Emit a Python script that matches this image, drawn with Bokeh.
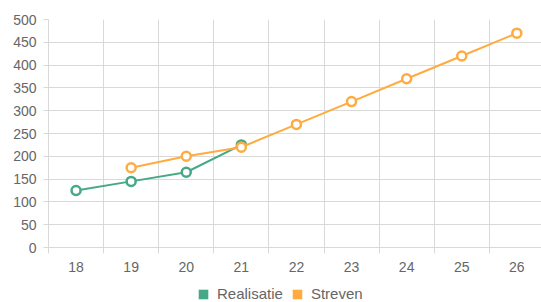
from bokeh.plotting import figure
from bokeh.layouts import column
from bokeh.models import Range1d, FixedTicker, Legend, LegendItem, ColumnDataSource
from bokeh.embed import file_html
from bokeh.resources import INLINE

# data
real_x = [18, 19, 20, 21]
real_y = [125, 145, 165, 225]
streven_x = [19, 20, 21, 22, 23, 24, 25, 26]
streven_y = [175, 200, 220, 270, 320, 370, 420, 470]
categories = [18, 19, 20, 21, 22, 23, 24, 25, 26]
y_ticks = [0, 50, 100, 150, 200, 250, 300, 350, 400, 450, 500]
series_names = ["Realisatie", "Streven"]

GREEN = "#45a985"
ORANGE = "#ffab3f"
GRID = "#d9d9d9"
TEXT = "#666666"
FONT = "Liberation Sans"

W = 541
H_MAIN, H_LEG = 284, 18
LEFT, RIGHT, TOP, BOTTOM = 48, 0, 19, 37
step = 55.1
x0 = categories[0] - 0.5
x1 = x0 + (W - LEFT - RIGHT) / step

p = figure(width=W, height=H_MAIN, output_backend="svg", toolbar_location=None,
           x_range=Range1d(x0, x1), y_range=Range1d(0, 500),
           min_border_left=LEFT, min_border_right=RIGHT,
           min_border_top=TOP, min_border_bottom=BOTTOM)
p.outline_line_color = None

half = [c - 0.5 for c in categories]

# x axis
xa = p.xaxis[0]
xa.ticker = FixedTicker(ticks=categories, minor_ticks=half)
xa.major_tick_out = 0
xa.major_tick_in = 0
xa.minor_tick_out = 6
xa.minor_tick_in = 0
xa.minor_tick_line_color = GRID
xa.axis_line_color = GRID
xa.major_label_text_font = FONT
xa.major_label_text_font_size = "14px"
xa.major_label_text_color = TEXT
xa.major_label_standoff = 8

# y axis
ya = p.yaxis[0]
ya.ticker = FixedTicker(ticks=y_ticks)
ya.major_tick_out = 5
ya.major_tick_in = 0
ya.minor_tick_line_color = None
ya.major_tick_line_color = GRID
ya.axis_line_color = GRID
ya.major_label_text_font = FONT
ya.major_label_text_font_size = "14px"
ya.major_label_text_color = TEXT
ya.major_label_standoff = 7

p.xgrid[0].ticker = FixedTicker(ticks=half)
p.xgrid[0].grid_line_color = GRID
p.ygrid[0].ticker = FixedTicker(ticks=y_ticks)
p.ygrid[0].grid_line_color = GRID

# series
p.line(real_x, real_y, line_color=GREEN, line_width=2)
p.scatter(real_x, real_y, size=9, line_color=GREEN, line_width=2.5, fill_color="white")
p.line(streven_x, streven_y, line_color=ORANGE, line_width=2)
p.scatter(streven_x, streven_y, size=9, line_color=ORANGE, line_width=2.5, fill_color="white")

# legend strip (separate small figure holding only the legend)
lf = figure(width=W, height=H_LEG, output_backend="svg", toolbar_location=None,
            x_range=Range1d(0, 1), y_range=Range1d(0, 1),
            min_border=0, min_border_left=0, min_border_right=0,
            min_border_top=0, min_border_bottom=0)
lf.axis.visible = False
lf.grid.visible = False
lf.outline_line_color = None

nan = float("nan")
swatch_src = ColumnDataSource(data=dict(l=[nan], r=[nan], t=[nan], b=[nan]))
sw_g = lf.quad(left="l", right="r", top="t", bottom="b", source=swatch_src,
               fill_color=GREEN, line_color=None)
sw_o = lf.quad(left="l", right="r", top="t", bottom="b", source=swatch_src,
               fill_color=ORANGE, line_color=None)

legend = Legend(items=[LegendItem(label=series_names[0], renderers=[sw_g]),
                       LegendItem(label=series_names[1], renderers=[sw_o])],
                orientation="horizontal", location=(149, 0),
                glyph_width=12, glyph_height=12, label_standoff=8, spacing=8,
                padding=0, margin=0, label_height=12,
                label_text_font=FONT, label_text_font_size="15px",
                label_text_color=TEXT, border_line_alpha=0,
                background_fill_alpha=0)
lf.add_layout(legend)

layout = column(p, lf, spacing=0)
open("out.html", "w").write(file_html(layout, INLINE))
